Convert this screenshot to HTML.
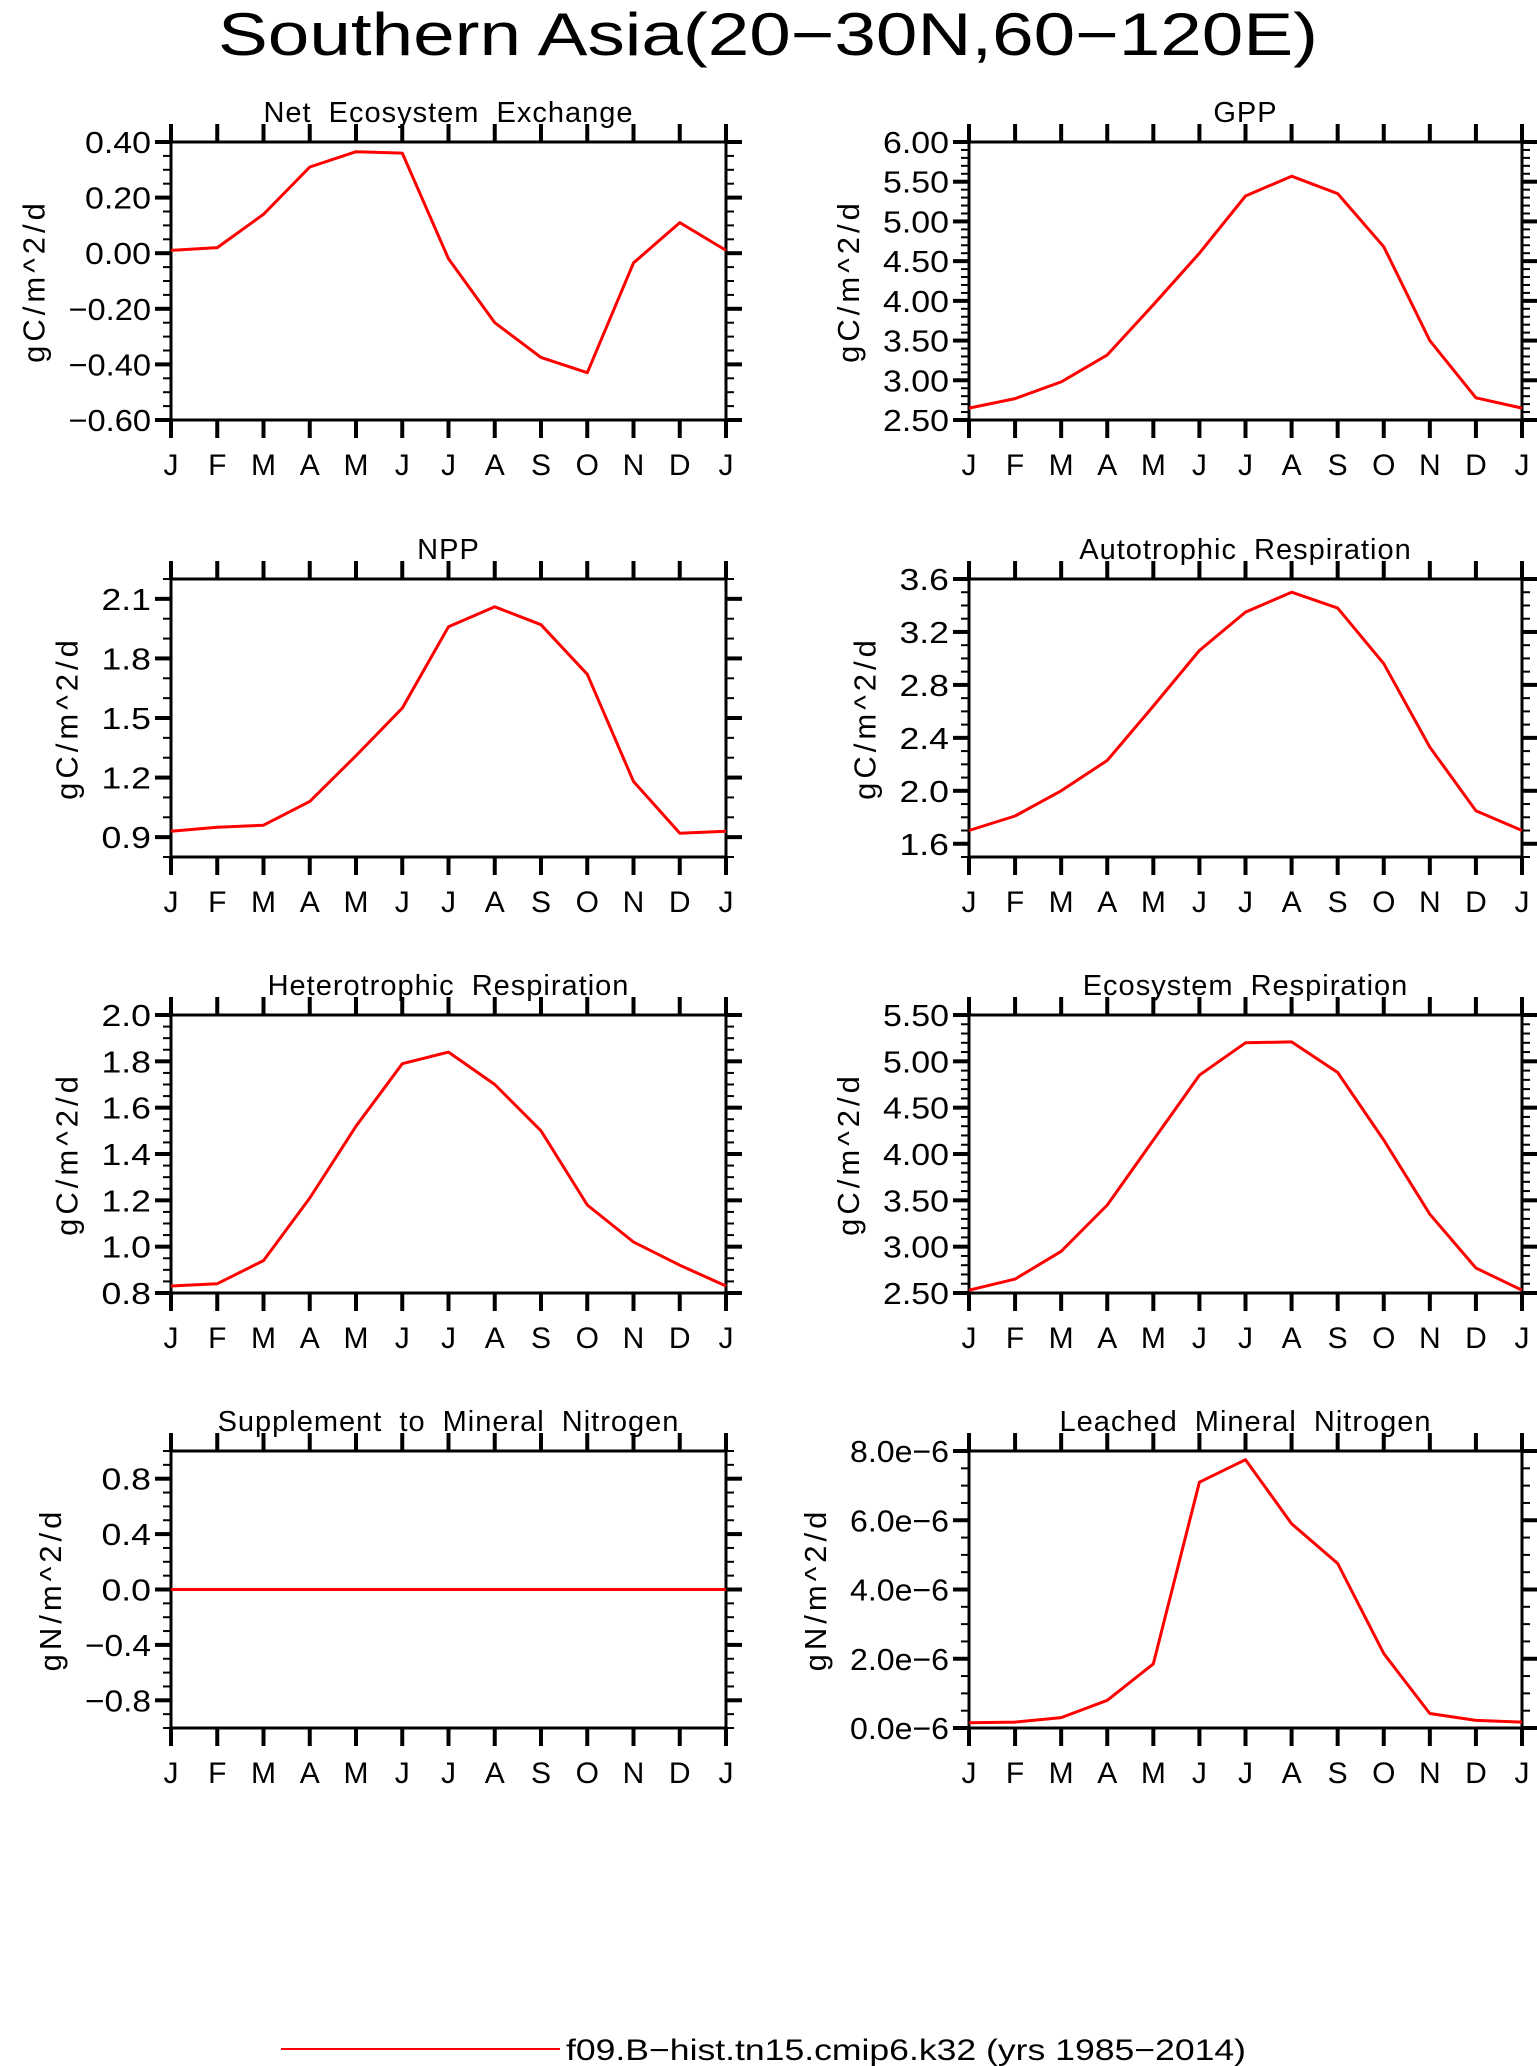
<!DOCTYPE html>
<html><head><meta charset="utf-8"><style>
html,body{margin:0;padding:0;background:#fff;}
svg{display:block;font-family:"Liberation Sans",sans-serif;}
</style></head><body>
<svg id="fig" width="1537" height="2066" viewBox="0 0 1537 2066" xmlns="http://www.w3.org/2000/svg">
<text x="768" y="55" font-size="60" text-anchor="middle" textLength="1100" lengthAdjust="spacingAndGlyphs">Southern Asia(20−30N,60−120E)</text>
<line x1="281" y1="2049" x2="560" y2="2049" stroke="#ff0000" stroke-width="2"/>
<text x="566" y="2060" font-size="30" textLength="680" lengthAdjust="spacingAndGlyphs">f09.B−hist.tn15.cmip6.k32 (yrs 1985−2014)</text>
</svg>
<script>
const months = ["J","F","M","A","M","J","J","A","S","O","N","D","J"];
const neeVals = [0.01,0.02,0.14,0.31,0.365,0.36,-0.02,-0.25,-0.375,-0.43,-0.035,0.11,0.01];
const gppVals = [2.65,2.77,2.98,3.32,3.95,4.6,5.32,5.57,5.35,4.68,3.5,2.78,2.65];
const nppVals = [0.93,0.95,0.96,1.08,1.31,1.55,1.96,2.06,1.97,1.72,1.18,0.92,0.93];
const arVals = [1.7,1.81,2.0,2.23,2.64,3.06,3.35,3.5,3.38,2.96,2.33,1.85,1.7];
const hrVals = [0.83,0.84,0.94,1.21,1.52,1.79,1.84,1.7,1.5,1.18,1.02,0.92,0.83];
const erVals = [2.53,2.65,2.95,3.45,4.15,4.85,5.2,5.21,4.88,4.15,3.35,2.77,2.53];
const supVals = [0,0,0,0,0,0,0,0,0,0,0,0,0];
const leachVals = [0.15e-6,0.17e-6,0.3e-6,0.8e-6,1.85e-6,7.1e-6,7.75e-6,5.9e-6,4.75e-6,2.15e-6,0.42e-6,0.22e-6,0.17e-6];
const neeTicks = ["0.40","0.20","0.00","−0.20","−0.40","−0.60"];
const gppTicks = ["6.00","5.50","5.00","4.50","4.00","3.50","3.00","2.50"];
const nppTicks = ["2.1","1.8","1.5","1.2","0.9"];
const arTicks = ["3.6","3.2","2.8","2.4","2.0","1.6"];
const hrTicks = ["2.0","1.8","1.6","1.4","1.2","1.0","0.8"];
const erTicks = ["5.50","5.00","4.50","4.00","3.50","3.00","2.50"];
const supTicks = ["0.8","0.4","0.0","−0.4","−0.8"];
const leachTicks = ["8.0e−6","6.0e−6","4.0e−6","2.0e−6","0.0e−6"];

const NS="http://www.w3.org/2000/svg";
const svg=document.getElementById('fig');
function mk(tag,attrs,parent){const e=document.createElementNS(NS,tag);for(const k in attrs)e.setAttribute(k,attrs[k]);(parent||svg).appendChild(e);return e;}
function num(s){return parseFloat(s.split('−').join('-'));}

const cols=[[171,726],[969,1522]];
const rows=[[142,420],[579,857],[1015,1293],[1451,1728]];
const panels=[
 {id:"nee",title:"Net Ecosystem Exchange",unit:"gC/m^2/d",vals:neeVals,ticks:neeTicks,min:-0.6,max:0.4,minor:0.05,c:0,r:0},
 {id:"gpp",title:"GPP",unit:"gC/m^2/d",vals:gppVals,ticks:gppTicks,min:2.5,max:6.0,minor:0.1,c:1,r:0},
 {id:"npp",title:"NPP",unit:"gC/m^2/d",vals:nppVals,ticks:nppTicks,min:0.8,max:2.2,minor:0.1,c:0,r:1},
 {id:"autotrophic-respiration",title:"Autotrophic Respiration",unit:"gC/m^2/d",vals:arVals,ticks:arTicks,min:1.5,max:3.6,minor:0.1,c:1,r:1},
 {id:"heterotrophic-respiration",title:"Heterotrophic Respiration",unit:"gC/m^2/d",vals:hrVals,ticks:hrTicks,min:0.8,max:2.0,minor:0.05,c:0,r:2},
 {id:"ecosystem-respiration",title:"Ecosystem Respiration",unit:"gC/m^2/d",vals:erVals,ticks:erTicks,min:2.5,max:5.5,minor:0.1,c:1,r:2},
 {id:"supplement-mineral-nitrogen",title:"Supplement to Mineral Nitrogen",unit:"gN/m^2/d",vals:supVals,ticks:supTicks,min:-1.0,max:1.0,minor:0.1,c:0,r:3},
 {id:"leached-mineral-nitrogen",title:"Leached Mineral Nitrogen",unit:"gN/m^2/d",vals:leachVals,ticks:leachTicks,min:0,max:8e-6,minor:0.5e-6,c:1,r:3}
];
panels.forEach(p=>{
 const [x0,x1]=cols[p.c],[y0,y1]=rows[p.r];
 const g=mk('g',{});
 
 
 const xs=i=>x0+(x1-x0)*i/12;
 const ys=v=>y1-(y1-y0)*(v-p.min)/(p.max-p.min);
 const t=mk('text',{x:(x0+x1)/2,y:y0-20,'font-size':29,'text-anchor':'middle','letter-spacing':1,'word-spacing':8},g);
 t.textContent=p.title;
 
 
 const nMin=Math.round((p.max-p.min)/p.minor);
 for(let k=0;k<=nMin;k++){const v=p.min+k*p.minor;const y=ys(v);
  const tl=mk('line',{x1:x0-8,y1:y,x2:x0,y2:y,stroke:'#000','stroke-width':2},g);
  
  
  const tr=mk('line',{x1:x1,y1:y,x2:x1+8,y2:y,stroke:'#000','stroke-width':2},g);
  
  }
 let maxW=0;
 p.ticks.forEach(s=>{
  const v=num(s);const y=ys(v);
  const l=mk('line',{x1:x0-16,y1:y,x2:x0,y2:y,stroke:'#000','stroke-width':4},g);
  
  
  const r=mk('line',{x1:x1,y1:y,x2:x1+16,y2:y,stroke:'#000','stroke-width':4},g);
  
  
  const w=s.length*16.5;maxW=Math.max(maxW,w);
  const tx=mk('text',{x:x0-20,y:y+11,'font-size':31,'text-anchor':'end',textLength:w,lengthAdjust:'spacingAndGlyphs'},g);
  tx.textContent=s;
  
  
 });
 const ax=x0-20-maxW-24, ay=(y0+y1)/2;
 const yt=mk('text',{x:ax,y:ay,'font-size':31,'text-anchor':'middle','letter-spacing':4,transform:`rotate(-90 ${ax} ${ay})`},g);
 yt.textContent=p.unit;
 
 
 months.forEach((m,i)=>{
  const x=xs(i);
  const a=mk('line',{x1:x,y1:y0-18,x2:x,y2:y0,stroke:'#000','stroke-width':4},g);
  
  
  const b=mk('line',{x1:x,y1:y1,x2:x,y2:y1+18,stroke:'#000','stroke-width':4},g);
  
  
  const ml=mk('text',{x:x,y:y1+55,'font-size':30,'text-anchor':'middle'},g);
  ml.textContent=m;
  
  
 });
 const fr=mk('rect',{x:x0,y:y0,width:x1-x0,height:y1-y0,fill:'none',stroke:'#000','stroke-width':3},g);
 
 
 const pts=p.vals.map((v,i)=>xs(i).toFixed(1)+','+ys(v).toFixed(1)).join(' ');
 const pl=mk('polyline',{points:pts,fill:'none',stroke:'#ff0000','stroke-width':3,'stroke-linejoin':'round'},g);
 
 
});
</script>
</body></html>
